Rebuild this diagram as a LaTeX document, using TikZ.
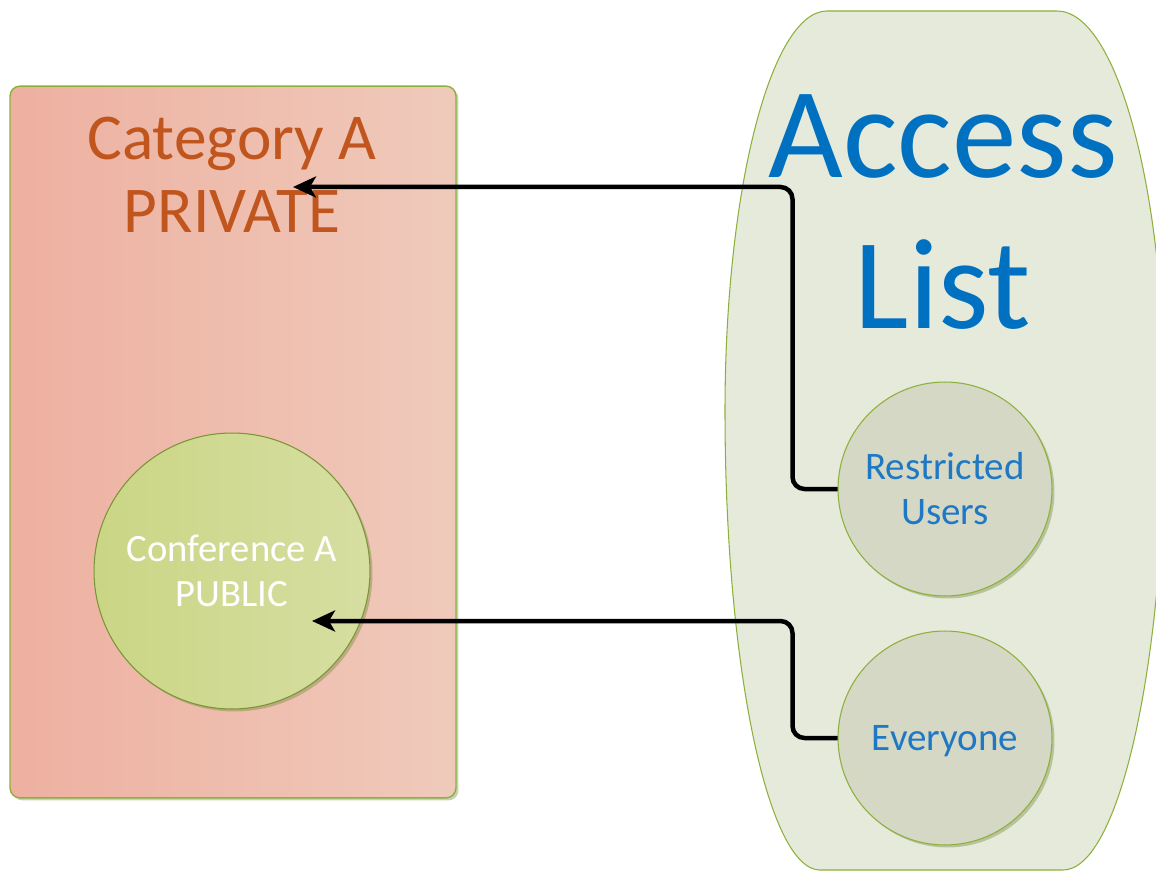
\documentclass[tikz,border=0pt]{standalone}
\usepackage{fontspec}
\setmainfont{Carlito}
\usepackage{tikz}
\usetikzlibrary{positioning, arrows.meta, shadows}
\definecolor{catFillA} {HTML}{EEB0A0}
\definecolor{catFillB} {HTML}{EFCABB}
\definecolor{catText}  {HTML}{C0561E}
\definecolor{cEdge}    {HTML}{8DB03C}
\definecolor{listFill} {HTML}{E6EADB}
\definecolor{listText} {HTML}{0070C0}
\definecolor{userFill} {HTML}{D4D8C4}
\definecolor{userText} {HTML}{1F78C4}
\definecolor{confFillA}{HTML}{CAD685}
\definecolor{confFillB}{HTML}{D6DEA1}

\begin{document}
\begin{tikzpicture}[x=0.02cm, y=-0.02cm,
  softshadow/.style={drop shadow={shadow xshift=0.05cm, shadow yshift=-0.05cm,
                     opacity=0.35, fill=cEdge!70!black}},
  usercircle/.style={circle, draw=cEdge, line width=0.6pt, fill=userFill,
                     minimum size=4.28cm, inner sep=0pt, text=userText,
                     font=\fontsize{22.2}{25.6}\selectfont, align=center, softshadow},
  link/.style={-{Stealth[length=0.46cm, width=0.42cm, inset=0.12cm]},
               line width=0.09cm, rounded corners=0.24cm}]
        \useasboundingbox (0,0) rectangle (1156,871);
        % category box
        \node[draw=cEdge, line width=0.8pt, rounded corners=0.2cm,
               left color=catFillA, right color=catFillB,
               minimum width=8.92cm, minimum height=14.24cm, inner sep=0pt, softshadow]
              (cat) at (233,442) {};
        \node[font=\fontsize{37.2}{41.5}\selectfont, text=catText, align=center, inner sep=0pt]
              (catlabel) at (232,175) {Category A\\PRIVATE};
        \node[circle, draw=cEdge!85!black, line width=0.6pt,
               left color=confFillA, right color=confFillB,
               minimum size=5.52cm, inner sep=0pt, text=white,
               font=\fontsize{22}{25.6}\selectfont, align=center, softshadow]
              (conf) at (232,571) {Conference A\\PUBLIC};
        % access list
        \fill[listFill, draw=cEdge, line width=0.6pt]
              (827,11) -- (1057,11)
              .. controls (1117,11) and (1165,190) .. (1165,411)
              .. controls (1165,665) and (1119,870) .. (1063,870)
              -- (820,870)
              .. controls (768,870) and (725,665) .. (725,411)
              .. controls (725,190) and (771,11) .. (827,11) -- cycle;
        \node[font=\fontsize{73.5}{86}\selectfont, text=listText, align=center, inner sep=0pt]
              (acclabel) at (943,212) {Access\\List};
        \node[usercircle] (restr) at (945,489) {Restricted\\Users};
        \node[usercircle, text depth=0pt] (every) at (945,738) {Everyone};
        % links
        \coordinate (privtip) at (293,187);
        \coordinate (pubtip) at (312,621);
        \draw[link] (restr.west) -- ++(-45,0) |- (privtip);
        \draw[link] (every.west) -- ++(-45,0) |- (pubtip);
      \end{tikzpicture}
\end{document}
